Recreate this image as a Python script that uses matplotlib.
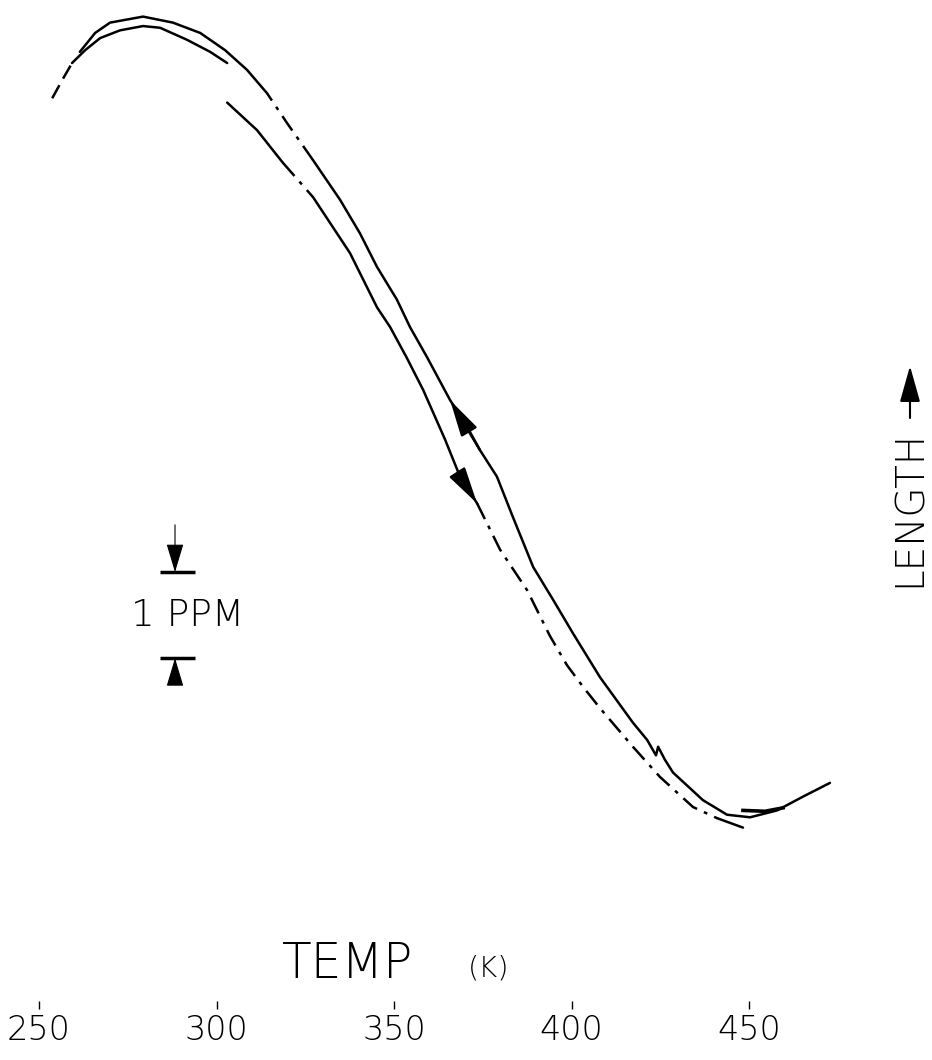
import matplotlib
matplotlib.use("Agg")
import matplotlib.pyplot as plt

# Dilatometer trace: sample length (ppm, arbitrary zero) against temperature (K)
temps = [250, 300, 350, 400, 450]
temp_labels = ['250', '300', '350', '400', '450']

# heating run, upper arc before the pen reset
heat_top_T = [253.7, 256.5, 259.3, 263.0, 267.2, 272.8, 279.3, 284.1, 291.7, 298.2, 303.0]
heat_top_L = [7.81, 8.02, 8.22, 8.37, 8.51, 8.60, 8.65, 8.63, 8.49, 8.35, 8.22]

# heating run after the reset, down to the minimum
heat_low_T = [303.0, 311.4, 318.7, 327.2, 337.6, 345.2, 348.9, 353.5, 358.2, 364.4, 368.6, 373.4,
              379.9, 387.5, 393.9, 398.7, 403.2, 408.0, 417.3, 424.9, 434.2, 441.0, 448.3]
heat_low_L = [7.76, 7.44, 7.06, 6.66, 6.01, 5.38, 5.15, 4.80, 4.42, 3.84, 3.41, 3.10,
              2.56, 2.09, 1.56, 1.22, 0.97, 0.72, 0.27, -0.08, -0.43, -0.56, -0.67]

# cooling run, from the hot end back to room temperature
cool_T = [472.8, 465.2, 457.9, 450.3, 443.8, 437.0, 428.6, 426.3, 424.4, 423.8, 421.3,
          417.3, 408.0, 400.4, 394.8, 389.2, 383.5, 379.0, 374.2, 370.6, 365.8, 359.3, 354.5,
          350.8, 345.2, 340.4, 334.8, 327.2, 319.9, 314.2, 308.6, 302.4, 295.4, 287.7,
          279.3, 270.0, 265.8, 261.5]
cool_L = [-0.15, -0.31, -0.47, -0.55, -0.52, -0.35, -0.03, 0.12, 0.27, 0.17, 0.35,
          0.55, 1.08, 1.59, 1.98, 2.36, 2.94, 3.41, 3.72, 3.99, 4.30, 4.80, 5.15,
          5.47, 5.85, 6.24, 6.63, 7.09, 7.52, 7.87, 8.14, 8.37, 8.57, 8.69,
          8.76, 8.69, 8.57, 8.35]

# short stroke where the cooling pen starts
cool_start_T = [448.3, 454.5, 459.6]
cool_start_L = [-0.47, -0.48, -0.44]

# 1 ppm scale marker
scale_top = 2.30
scale_ppm = 1.0
scale_T = 288.3

DASHDOT = (0, (7, 3, 1.5, 3))
LW = 1.8
HAND = 'DejaVu Sans'


def draw(ax, T, L, pieces):
    for i0, i1, ls in pieces:
        ax.plot(T[i0:i1 + 1], L[i0:i1 + 1], color='black', lw=LW, ls=ls,
                solid_capstyle='round')


fig = plt.figure(figsize=(9.32, 10.6), dpi=100)
ax = fig.add_axes([0, 59 / 1060, 1, 1001 / 1060])
ax.set_xlim(239.0, 501.55)
ax.set_ylim(-2.686, 8.953)

draw(ax, heat_top_T, heat_top_L, [(0, 2, (0, (6, 3))), (2, 10, '-')])
draw(ax, heat_low_T, heat_low_L, [(0, 2, '-'), (2, 3, DASHDOT), (3, 11, '-'),
                                  (11, 21, DASHDOT), (21, 22, '-')])
draw(ax, cool_T, cool_L, [(0, 27, '-'), (27, 29, DASHDOT), (29, 37, '-')])
ax.plot(cool_start_T, cool_start_L, color='black', lw=2.6)

# direction arrows on the two runs
arrow = dict(arrowstyle='-|>,head_length=1.6,head_width=0.4', color='black',
             lw=LW, mutation_scale=14, shrinkA=0, shrinkB=0)
ax.annotate('', xy=(cool_T[20], cool_L[20]), xytext=(cool_T[18], cool_L[18]),
            arrowprops=arrow)
ax.annotate('', xy=(heat_low_T[11], heat_low_L[11]), xytext=(heat_low_T[10], heat_low_L[10]),
            arrowprops=arrow)

# scale marker: bars 1 ppm apart with arrows pointing in
ax.hlines([scale_top, scale_top - scale_ppm], scale_T - 4.2, scale_T + 5.6,
          color='black', lw=2.5)
mark = dict(arrowstyle='-|>,head_length=1.5,head_width=0.45', color='black',
            lw=0.8, mutation_scale=12, shrinkA=0, shrinkB=0)
ax.annotate('', xy=(scale_T, scale_top), xytext=(scale_T, scale_top + 0.55),
            arrowprops=mark)
ax.annotate('', xy=(scale_T, scale_top - scale_ppm),
            xytext=(scale_T, scale_top - scale_ppm - 0.29), arrowprops=mark)
ax.text(scale_T + 3.4, scale_top - scale_ppm / 2, '1 PPM', ha='center', va='center',
        fontsize=27, family=HAND, fontweight='light')

# axis: only the temperature ticks
for s in ax.spines.values():
    s.set_visible(False)
ax.set_yticks([])
ax.set_xticks(temps)
ax.set_xticklabels(temp_labels, family=HAND, fontsize=24, fontweight='light')
ax.tick_params(axis='x', direction='out', length=6, width=1, pad=3)

fig.text(282 / 932, 1 - 978 / 1060, 'TEMP', ha='left', va='baseline',
         fontsize=35, family=HAND, fontweight='light')
fig.text(468 / 932, 1 - 976 / 1060, '(K)', ha='left', va='baseline',
         fontsize=21, family=HAND, fontweight='light')

fig.text(910 / 932, 1 - 508 / 1060, 'LENGTH', rotation=90, ha='center', va='center',
         fontsize=28, family=HAND, fontweight='light')
fig.patches.append(matplotlib.patches.FancyArrowPatch(
    (910 / 932, 1 - 418 / 1060), (910 / 932, 1 - 366 / 1060),
    transform=fig.transFigure, arrowstyle='-|>,head_length=1.6,head_width=0.45',
    mutation_scale=14, color='black', lw=1.5, shrinkA=0, shrinkB=0))

fig.savefig('out.png', dpi=100, facecolor='white')
